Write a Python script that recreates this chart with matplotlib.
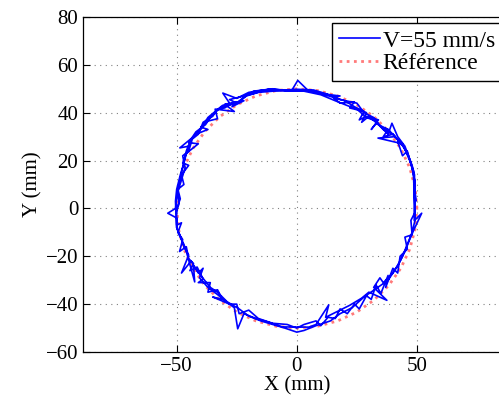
import matplotlib.pyplot as plt
import numpy as np

traj_x = [
    49.0, 49.0, 49.0, 48.0, 46.5, 45.0, 42.0, 39.6, 38.0, 34.0, 30.0, 27.0, 29.0, 24.0, 20.0,
    15.0, 10.0, 5.0, 0.4, -2.0, -8.0, -15.0, -20.0, -25.0, -30.8, -28.0, -31.0, -34.0, -37.0,
    -40.0, -43.0, -48.7, -45.0, -46.5, -48.0, -49.0, -49.7, -50.5, -53.7, -50.0, -50.0, -48.7,
    -47.0, -45.0, -48.0, -44.0, -41.0, -39.0, -40.5, -37.0, -33.0, -30.0, -26.0, -24.6, -22.0,
    -17.0, -12.0, -6.0, 0.0, 5.0, 8.0, 13.3, 12.0, 17.0, 22.0, 27.0, 30.0, 37.5, 32.0, 34.6,
    36.0, 40.0, 43.0, 45.0, 47.0, 48.7, 52.0, 49.0,
    49.2, 49.2, 48.5, 47.0, 44.0, 33.8, 41.0, 38.0, 35.0, 32.0, 28.0, 25.0, 18.0, 12.0, 7.0,
    0.0, -5.0, -12.0, -18.0, -22.0, -28.0, -25.0, -32.0, -36.0, -38.0, -42.0, -44.0, -46.0,
    -47.0, -48.5, -50.0, -50.5, -50.3, -50.0, -49.0, -47.0, -46.0, -42.5, -43.0, -40.0, -36.0,
    -33.0, -29.0, -24.0, -20.0, -15.0, -10.0, -5.0, 0.0, 3.0, 8.0, 14.0, 18.0, 23.0, 28.0,
    33.0, 38.0, 42.0, 44.0, 46.0, 48.0, 49.2, 49.2,
    48.5, 46.0, 44.0, 42.0, 44.5, 40.0, 36.0, 38.0, 33.0, 31.0, 34.0, 29.0, 26.0, 28.0, 22.0,
    24.0, 18.0, 15.0, 18.0, 10.0, 5.0, -3.0, -10.0, -18.0, -22.0, -27.0, -22.0, -30.0, -26.0,
    -34.0, -33.0, -37.0, -40.0, -37.0, -42.0, -45.0, -41.0, -46.0, -47.5, -45.0, -48.0, -47.0,
    -49.5, -48.5, -50.0, -50.0, -48.0, -49.5, -47.5, -48.8, -46.0, -45.0, -43.0, -44.5, -41.5,
    -39.0, -41.0, -36.0, -37.0, -33.0, -31.0, -35.0, -28.0, -25.0, -24.0, -20.0, -16.0, -10.0,
    -4.0, 0.0, 3.0, 8.0, 10.0, 13.0, 16.0, 18.0, 21.0, 24.0, 26.0, 29.0, 31.0, 33.0, 35.0,
    38.0, 37.0, 40.0, 42.0, 43.0, 46.0, 45.0, 48.0, 47.5, 49.0, 49.0,
    49.5, 49.0, 47.5, 46.0, 43.5, 40.0, 36.0, 33.0, 29.0, 25.0, 21.0, 16.0, 10.0, 3.0, -3.0,
    -10.0, -16.0, -21.0, -24.0, -27.0, -30.0, -33.0, -35.0, -39.0, -41.0, -43.5, -45.0, -47.5,
    -46.5, -48.0, -49.5, -49.0, -50.0,
]
traj_y = [
    -5.0, 5.0, 14.0, 18.0, 22.0, 26.0, 30.0, 35.6, 31.0, 35.0, 38.5, 36.0, 40.0, 42.5, 45.0,
    46.5, 48.0, 49.0, 53.5, 49.5, 49.5, 49.3, 48.5, 46.0, 48.2, 44.0, 43.0, 40.5, 38.0,
    33.0, 30.0, 25.3, 26.0, 21.0, 15.0, 10.0, 6.0, 0.0, -2.0, -4.0, -8.0, -11.0,
    -16.0, -19.5, -27.0, -22.0, -27.0, -25.0, -29.0, -33.0, -36.0, -38.5, -41.5, -50.3, -44.0,
    -46.0, -47.5, -49.5, -49.6, -49.6, -48.5, -40.3, -45.5, -43.0, -40.5, -37.5, -35.0, -38.4, -33.0, -29.0,
    -31.0, -27.0, -22.0, -18.0, -13.0, -9.0, -2.0, -5.0,
    0.0, 10.0, 16.0, 20.0, 27.0, 29.4, 30.0, 33.0, 34.0, 38.0, 40.0, 44.0, 45.5, 48.0, 49.5,
    49.8, 49.5, 49.8, 48.0, 47.0, 45.5, 44.0, 42.0, 38.0, 35.0, 32.0, 29.0, 24.0,
    19.0, 14.0, 8.0, 3.0, -2.0, -8.0, -11.0, -15.0, -18.0, -30.7, -24.0, -28.0, -33.0,
    -35.0, -39.0, -42.0, -45.0, -47.0, -48.5, -50.0, -51.7, -51.0, -49.0, -47.0, -44.0, -41.5, -37.0,
    -33.5, -30.0, -24.0, -20.0, -15.0, -10.0, -5.0, 0.0,
    15.0, 24.0, 22.0, 28.0, 26.0, 31.0, 30.0, 33.0, 35.5, 33.0, 37.0, 38.5, 37.0, 40.5, 42.0,
    44.5, 44.0, 46.5, 47.0, 48.0, 49.5, 49.0, 50.0, 49.0, 46.5, 42.5, 45.0, 43.5, 40.5,
    41.5, 37.5, 36.5, 34.0, 33.0, 31.0, 27.5, 27.0, 23.0, 19.0, 18.0, 14.0, 10.0,
    8.0, 4.0, 0.0, -7.0, -6.0, -10.0, -13.0, -18.0, -16.0, -21.0, -23.0, -26.0, -24.5,
    -29.5, -31.0, -31.0, -35.0, -34.0, -38.0, -37.0, -40.0, -40.0, -44.0, -42.5, -46.0, -48.0,
    -48.5, -50.0, -48.5, -47.0, -49.0, -45.5, -46.0, -42.0, -44.0, -40.0, -42.0, -36.5, -38.0, -32.0, -35.5,
    -28.0, -33.0, -25.0, -27.0, -20.0, -17.0, -12.0, -11.0, -5.0, -2.0, 10.0,
    3.0, 12.0, 19.0, 23.0, 27.0, 31.0, 33.0, 36.5, 38.0, 41.5, 43.0, 45.0, 47.5, 49.0, 49.2,
    49.0, 48.5, 47.0, 44.5, 44.0, 42.0, 41.5, 38.5, 36.0, 31.0, 29.0, 24.0, 22.0,
    17.0, 12.0, 7.0, 2.0, -1.0,
]

# reference circle, radius 50 mm, every 10 degrees
ref_x = [50.0, 49.24, 46.98, 43.30, 38.30, 32.14, 25.00, 17.10, 8.68, 0.0,
         -8.68, -17.10, -25.00, -32.14, -38.30, -43.30, -46.98, -49.24, -50.0,
         -49.24, -46.98, -43.30, -38.30, -32.14, -25.00, -17.10, -8.68, 0.0,
         8.68, 17.10, 25.00, 32.14, 38.30, 43.30, 46.98, 49.24, 50.0]
ref_y = [0.0, 8.68, 17.10, 25.00, 32.14, 38.30, 43.30, 46.98, 49.24, 50.0,
         49.24, 46.98, 43.30, 38.30, 32.14, 25.00, 17.10, 8.68, 0.0,
         -8.68, -17.10, -25.00, -32.14, -38.30, -43.30, -46.98, -49.24, -50.0,
         -49.24, -46.98, -43.30, -38.30, -32.14, -25.00, -17.10, -8.68, 0.0]

plt.rcParams.update({
    "font.family": "serif",
    "font.serif": ["Liberation Serif", "DejaVu Serif"],
    "font.size": 15,
})

fig = plt.figure(figsize=(4.99, 4.05), dpi=100)
ax = fig.add_axes([83 / 499, 53 / 405, 427.6 / 499, 335 / 405])

ax.plot(traj_x, traj_y, color="#0000ff", linewidth=1.2, label="V=55 mm/s", zorder=3)
ax.plot(ref_x, ref_y, color="#ff7a7a", linewidth=2.0, linestyle=(0, (1, 1.6)),
        label="Référence", zorder=2)

ax.set_xlim(-89, 89)
ax.set_ylim(-60, 80)
ax.set_xticks([-50, 0, 50])
ax.set_yticks(np.arange(-60, 81, 20))

ax.grid(True, color="#808080", linestyle=(0, (1, 4)), linewidth=0.8)
ax.set_axisbelow(True)
ax.tick_params(direction="in", top=True, right=True, length=5, width=0.8)
for s in ax.spines.values():
    s.set_linewidth(0.9)

ax.set_xlabel("X (mm)", labelpad=0)
ax.set_ylabel("Y (mm)", labelpad=2)

leg = ax.legend(loc="upper left", bbox_to_anchor=(332 / 499, 1 - 23 / 405),
                bbox_transform=fig.transFigure, fancybox=False, framealpha=1,
                edgecolor="black", fontsize=17, borderpad=0.3, labelspacing=0.05,
                handlelength=1.75, handletextpad=0.1, borderaxespad=0)
leg.get_frame().set_linewidth(1.0)

fig.savefig("out.png", dpi=100)
